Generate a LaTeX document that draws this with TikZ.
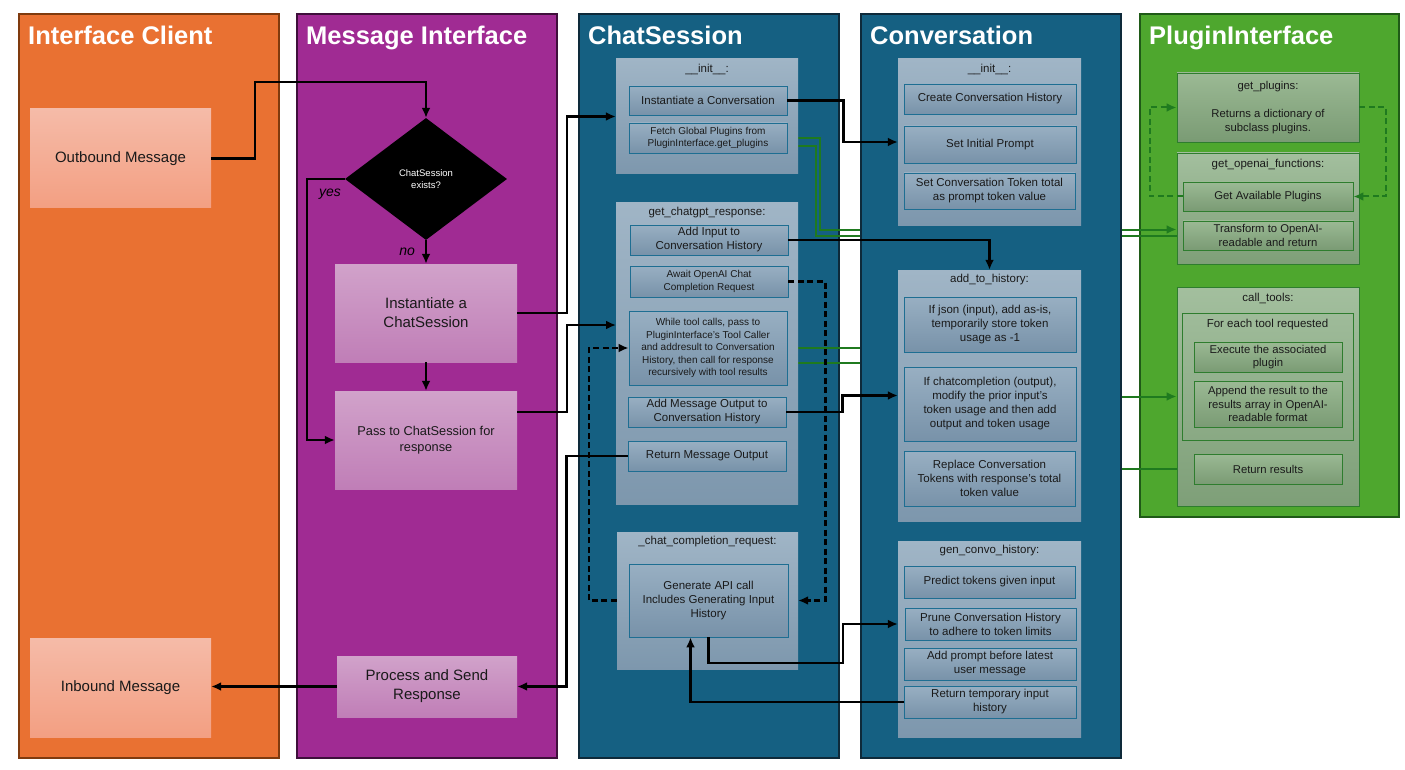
\documentclass[tikz,border=0pt]{standalone}
\usepackage{fontspec}
\setmainfont{Liberation Sans}
\usetikzlibrary{shapes.geometric,positioning,calc,arrows.meta}

\pgfdeclarelayer{background}
\pgfdeclarelayer{wires}
\pgfdeclarelayer{convlayer}
\pgfsetlayers{background,wires,convlayer,main}

\definecolor{clientorange}{HTML}{E97132}
\definecolor{clientline}{HTML}{7F3A0E}
\definecolor{msgpurple}{HTML}{A02B93}
\definecolor{msgline}{HTML}{3F0F3B}
\definecolor{sessblue}{HTML}{156082}
\definecolor{sessline}{HTML}{0E2A3A}
\definecolor{plugreen}{HTML}{4EA72E}
\definecolor{plugline}{HTML}{1F5A17}
\definecolor{salmontop}{HTML}{F5BBA8}
\definecolor{salmonbot}{HTML}{F39F82}
\definecolor{pinktop}{HTML}{D1A2CA}
\definecolor{pinkbot}{HTML}{C07EB7}
\definecolor{grouptop}{HTML}{A0B5C6}
\definecolor{groupbot}{HTML}{7D97AD}
\definecolor{boxtop}{HTML}{98AFC2}
\definecolor{boxbot}{HTML}{7892A9}
\definecolor{boxline}{HTML}{1E6E92}
\definecolor{pltop}{HTML}{A3BF9E}
\definecolor{plbot}{HTML}{7E9F78}
\definecolor{plboxtop}{HTML}{9BB994}
\definecolor{plboxbot}{HTML}{7A9B74}
\definecolor{plboxline}{HTML}{2E7D2E}
\definecolor{wiregreen}{HTML}{1F7A1F}
\definecolor{textdark}{HTML}{1A1A1A}

\tikzset{
  lane/.style={draw, line width=1.6pt, anchor=north west, minimum width=260pt,
    minimum height=744pt, inner sep=0pt},
  lanetitle/.style={anchor=base west, text=white, inner sep=0pt,
    font=\fontsize{25.5}{30}\selectfont\bfseries},
  clientbox/.style={top color=salmontop, bottom color=salmonbot, minimum width=181pt,
    minimum height=99pt, align=center, text=textdark,
    font=\fontsize{15}{19}\selectfont},
  msgbox/.style={top color=pinktop, bottom color=pinkbot, minimum width=182pt,
    minimum height=98pt, align=center, text=textdark,
    font=\fontsize{15}{19}\selectfont},
  decision/.style={diamond, fill=black, aspect=1.33, inner sep=0pt, minimum width=162pt,
    minimum height=122pt, text=white, align=center, font=\fontsize{9.5}{12}\selectfont},
  csgroup/.style={top color=grouptop, bottom color=groupbot, inner sep=0pt},
  csbox/.style={draw=boxline, line width=0.9pt, top color=boxtop, bottom color=boxbot,
    minimum width=158pt, minimum height=30pt, inner sep=1pt, align=center,
    text=textdark, font=\fontsize{11.5}{14}\selectfont},
  cssmall/.style={csbox, font=\fontsize{10}{12.5}\selectfont},
  grouptitle/.style={inner sep=0pt, text=textdark, font=\fontsize{11.5}{13}\selectfont},
  plgroup/.style={draw=plboxline, line width=0.9pt, top color=pltop, bottom color=plbot,
    inner sep=0pt},
  plbox/.style={draw=plboxline, line width=0.9pt, top color=plboxtop, bottom color=plboxbot,
    minimum width=170pt, minimum height=29pt, inner sep=1pt, align=center,
    text=textdark, font=\fontsize{11.3}{13.5}\selectfont},
  wire/.style={->, line width=2.2pt, draw=black},
  gwire/.style={wire, line width=2pt, draw=wiregreen},
  dashedwire/.style={dash pattern=on 6pt off 3.5pt},
  answer/.style={inner sep=0pt, font=\fontsize{14}{16}\selectfont\itshape}
}

\begin{document}
\begin{tikzpicture}[x=1pt,y=-1pt,>={Latex[length=10pt,width=9pt]}]
  \useasboundingbox (0,0) rectangle (1405,770);

  % swim lanes
  \begin{pgfonlayer}{background}
    \node[lane, fill=clientorange, draw=clientline] (client) at (18,13) {};
    \node[lane, fill=msgpurple, draw=msgline] (msg) at (296,13) {};
    \node[lane, fill=sessblue, draw=sessline] (sess) at (578,13) {};
    \node[lane, fill=plugreen, draw=plugline, minimum width=259pt, minimum height=503pt] (plug) at (1139,13) {};
  \end{pgfonlayer}
  \begin{pgfonlayer}{convlayer}
    \node[lane, fill=sessblue, draw=sessline] (conv) at (860,13) {};
  \end{pgfonlayer}

  \node[lanetitle] (clienttitle) at (28,45) {Interface Client};
  \node[lanetitle] (msgtitle) at (306,45) {Message Interface};
  \node[lanetitle] (sesstitle) at (588,45) {ChatSession};
  \node[lanetitle] (convtitle) at (870,45) {Conversation};
  \node[lanetitle] (plugtitle) at (1149,45) {PluginInterface};

  % interface client
  \node[clientbox] (outbound) at (120.5,158.5) {Outbound Message};
  \node[clientbox] (inbound) at (120.5,687.5) {Inbound Message};

  % message interface
  \node[decision] (exists) at (426,179) {ChatSession\\exists?};
  \node[msgbox] (instcs) at (426,313) {Instantiate a\\ChatSession};
  \node[msgbox, font=\fontsize{12.8}{16}\selectfont] (passcs) at (426,440) {Pass to ChatSession for\\response};
  \node[msgbox, minimum width=180pt, minimum height=61pt] (procsend) at (427,686.5) {Process and Send\\Response};

  % chat session
  \node[csgroup, minimum width=182pt, minimum height=115pt] (csinit) at (707,116.5) {};
  \node[grouptitle, below=5pt of csinit.north] (csinittitle) {\_\_init\_\_:};
  \node[csbox, minimum height=29pt] (instconv) at (708,100.5) {Instantiate a Conversation};
  \node[cssmall] (fetchplug) at (708,138) {Fetch Global Plugins from\\PluginInterface.get\_plugins};

  \node[csgroup, minimum width=182pt, minimum height=301pt] (getresp) at (707,353.5) {};
  \node[grouptitle, below=4pt of getresp.north] (getresptitle) {get\_chatgpt\_response:};
  \node[csbox] (addinput) at (709,240) {Add Input to\\Conversation History};
  \node[cssmall, minimum height=31pt] (awaitreq) at (709,281.5) {Await OpenAI Chat\\Completion Request};
  \node[cssmall, minimum height=74pt] (toolloop) at (708,348) {While tool calls, pass to\\PluginInterface’s Tool Caller\\and addresult to Conversation\\History, then call for response\\recursively with tool results};
  \node[csbox] (addoutput) at (707,412) {Add Message Output to\\Conversation History};
  \node[csbox] (retout) at (707,456) {Return Message Output};

  \node[csgroup, minimum width=181pt, minimum height=137pt] (ccreq) at (707.5,600.5) {};
  \node[grouptitle, below=4pt of ccreq.north] (ccreqtitle) {\_chat\_completion\_request:};
  \node[csbox, minimum width=159pt, minimum height=73pt] (genapi) at (708.5,600.5) {Generate API call\\Includes Generating Input\\History};

  % conversation
  \node[csgroup, minimum width=183pt, minimum height=166pt] (cvinit) at (989.5,142) {};
  \node[grouptitle, below=5pt of cvinit.north] (cvinittitle) {\_\_init\_\_:};
  \node[csbox, minimum width=172pt] (createhist) at (990,99) {Create Conversation History};
  \node[csbox, minimum width=172pt, minimum height=37pt] (setprompt) at (990,144.5) {Set Initial Prompt};
  \node[csbox, minimum width=171pt, minimum height=36pt] (settoken) at (989.5,191) {Set Conversation Token total\\as prompt token value};

  \node[csgroup, minimum width=183pt, minimum height=251pt] (addhist) at (989.5,395.5) {};
  \node[grouptitle, below=4pt of addhist.north] (addhisttitle) {add\_to\_history:};
  \node[csbox, minimum width=172pt, minimum height=55pt] (ifjson) at (990,324.5) {If json (input), add as-is,\\temporarily store token\\usage as -1};
  \node[csbox, minimum width=172pt, minimum height=74pt] (ifchat) at (990,404) {If chatcompletion (output),\\modify the prior input’s\\token usage and then add\\output and token usage};
  \node[csbox, minimum width=171pt, minimum height=55pt] (replacetok) at (989.5,478.5) {Replace Conversation\\Tokens with response’s total\\token value};

  \node[csgroup, minimum width=183pt, minimum height=196pt] (genhist) at (989.5,639) {};
  \node[grouptitle, below=4pt of genhist.north] (genhisttitle) {gen\_convo\_history:};
  \node[csbox, minimum width=171pt, minimum height=32pt] (predict) at (989.5,582) {Predict tokens given input};
  \node[csbox, minimum width=171pt, minimum height=32pt] (prune) at (990.5,624) {Prune Conversation History\\to adhere to token limits};
  \node[csbox, minimum width=172pt, minimum height=32pt] (addprompt) at (990,664) {Add prompt before latest\\user message};
  \node[csbox, minimum width=172pt, minimum height=32pt] (rettemp) at (990,702) {Return temporary input\\history};

  % plugin interface
  \node[plbox, minimum width=182pt, minimum height=69pt] (getplug) at (1268,107.5) {get\_plugins:\\[15pt]Returns a dictionary of\\subclass plugins.};

  \node[plgroup, minimum width=182pt, minimum height=111pt] (openaifn) at (1268,208.5) {};
  \node[grouptitle, below=6pt of openaifn.north] (openaifntitle) {get\_openai\_functions:};
  \node[plbox] (getavail) at (1268,196.5) {Get Available Plugins};
  \node[plbox] (transform) at (1268,235.5) {Transform to OpenAI-\\readable and return};

  \node[plgroup, minimum width=182pt, minimum height=219pt] (calltools) at (1268,396.5) {};
  \node[grouptitle, below=6pt of calltools.north] (calltoolstitle) {call\_tools:};
  \node[draw=plboxline, line width=0.9pt, minimum width=171pt, minimum height=127pt] (foreach) at (1267.5,376.5) {};
  \node[grouptitle, below=6pt of foreach.north] (foreachtitle) {For each tool requested};
  \node[plbox, minimum width=148pt, minimum height=30pt] (execplug) at (1268,357) {Execute the associated\\plugin};
  \node[plbox, minimum width=148pt, minimum height=46pt] (appendres) at (1268,404) {Append the result to the\\results array in OpenAI-\\readable format};
  \node[plbox, minimum width=148pt, minimum height=30pt] (retres) at (1268,469) {Return results};

  % message flow
  \coordinate (obturn) at (255,82);
  \draw[wire] (outbound.east) -| (obturn) -| (exists.north);
  \draw[wire] (exists.west) -- ++(-38,0) |- (passcs.west);
  \node[answer] (yes) at (330,194) {yes};
  \draw[wire] (exists.south) -- node[answer, left=10pt] (no) {no} (instcs.north);
  \draw[wire] (instcs.south) -- (passcs.north);
  \draw[wire] (instcs.east) -- ++(50,0) |- (csinit.west);
  \coordinate (respin) at (616,325);
  \draw[wire] ($(passcs.north east)+(0,21)$) -- ++(50,0) |- (respin);
  \draw[wire] (retout.west) -- ++(-61,0) |- (procsend.east);
  \draw[wire] (procsend.west) -- (procsend.west -| inbound.east);

  % session to conversation
  \draw[wire] (instconv.east) -- ++(56,0) |- (cvinit.west);
  \draw[wire] (addinput.east) -| (addhist.north);
  \draw[wire] (addoutput.east) -- ++(56,0) |- (addhist.west);
  \coordinate (genturn) at (843,663);
  \draw[wire] (genapi.south) |- (genturn) |- (genhist.west |- prune.west);
  \draw[wire] (rettemp.west) -| ($(genapi.south)+(-18,0)$);

  % completion request
  \draw[wire, dashedwire] (awaitreq.east) -- ++(37,0) |- (ccreq.east);
  \draw[wire, dashedwire] (ccreq.west) -- ++(-28,0) |- (toolloop.west);

  % plugin calls, behind the conversation lane
  \begin{pgfonlayer}{wires}
    \draw[gwire] (fetchplug.east) -- ++(33,0) |- ($(openaifn.west |- transform.west)+(0,-6)$);
    \draw[gwire] (transform.west) -| ($(fetchplug.east)+(29,8)$) -- ($(fetchplug.east)+(0,8)$);
    \draw[gwire] (toolloop.east) -- ++(200,0) |- (calltools.west);
    \draw[gwire] (retres.west) -| ($(toolloop.east)+(213,15)$) -- ($(toolloop.east)+(0,15)$);
  \end{pgfonlayer}

  % plugin lookup
  \draw[gwire, dashedwire] (getavail.west) -- ++(-33,0) |- (getplug.west);
  \draw[gwire, dashedwire] (getplug.east) -- ++(27,0) |- (getavail.east);
\end{tikzpicture}
\end{document}
